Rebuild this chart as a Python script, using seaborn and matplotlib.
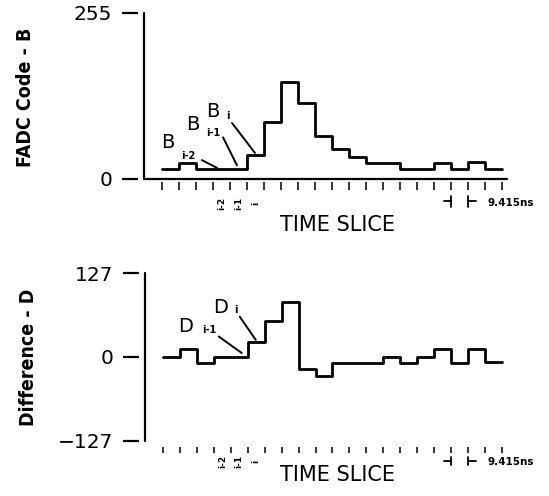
import numpy as np
import matplotlib
matplotlib.use("Agg")
import matplotlib.pyplot as plt
import seaborn as sns

# 數據: 每個時間片的 FADC 值與差分值
time_edges = list(range(21))
fadc_code = [15, 25, 15, 15, 15, 37, 88, 149, 117, 66, 46, 34, 25, 25, 16, 16, 25, 16, 26, 16]
difference = [0, 12, -9, 0, 0, 22, 54, 83, -18, -29, -9, -9, -9, 0, -9, 0, 12, -9, 12, -8]
slice_labels = ["i-2", "i-1", "i"]
slice_label_pos = [3.5, 4.5, 5.5]
fadc_ticks = [0, 255]
diff_ticks = [-127, 0, 127]

sns.set_style("ticks")
plt.rcParams["font.family"] = ["DejaVu Sans"]
plt.rcParams["text.color"] = "black"
plt.rcParams["xtick.color"] = "black"
plt.rcParams["ytick.color"] = "black"
plt.rcParams["xtick.labelcolor"] = "black"
plt.rcParams["ytick.labelcolor"] = "black"

PT = 0.72  # 1 px in points at dpi 100
LW = 1.6

fig = plt.figure(figsize=(5.49, 4.96), dpi=100)
ax1 = fig.add_axes([144 / 549, 1 - 179 / 496, 363 / 549, 166 / 496])
ax2 = fig.add_axes([145 / 549, 1 - 441 / 496, 362 / 549, 168 / 496])


def step_plot(ax, values):
    y = np.r_[values, values[-1]]
    sns.lineplot(x=time_edges, y=y, drawstyle="steps-post", color="black",
                 linewidth=2, estimator=None, sort=False, ax=ax)


def style_axis(ax, yticks, ylim, x_offset_px, x_tick_px, draw_xline):
    ax.set_xlim(-18 / 17, 345 / 17)
    ax.set_ylim(*ylim)
    ax.set_yticks(yticks)
    ax.set_xticks(time_edges)
    ax.set_xticklabels([])
    ax.set_xlabel("")
    ax.set_ylabel("")
    for side in ["top", "right"]:
        ax.spines[side].set_visible(False)
    # 刻度與軸線分離
    ax.spines["left"].set_position(("outward", 6 * PT))
    ax.spines["left"].set_color("none")
    ax.spines["bottom"].set_position(("outward", x_offset_px * PT))
    ax.spines["bottom"].set_color("none")
    ax.plot([0, 0], [0, 1], transform=ax.transAxes, color="black", lw=LW, clip_on=False)
    if draw_xline:
        ax.plot([0, 1], [0, 0], transform=ax.transAxes, color="black", lw=LW, clip_on=False)
    ax.tick_params(axis="y", length=16 * PT, width=LW, pad=7, labelsize=14.5,
                   color="black", labelcolor="black")
    ax.tick_params(axis="x", length=x_tick_px * PT, width=1.1, color="black")


def slice_marks(ax, y_lab, y0, y1):
    trans = ax.get_xaxis_transform()
    for x, s in zip(slice_label_pos, slice_labels):
        ax.text(x, y_lab, s, transform=trans, rotation=90, ha="center", va="center",
                fontsize=6.5, fontweight="bold", color="black")
    ym = (y0 + y1) / 2
    for x, dx in [(17, -0.42), (18, 0.45)]:
        ax.plot([x, x], [y0, y1], transform=trans, color="black", lw=1.3, clip_on=False)
        ax.plot([x, x + dx], [ym, ym], transform=trans, color="black", lw=1.3, clip_on=False)


def pointer(ax, main, sub, p_main, p_sub, start, end):
    ax.text(*p_main, main, fontsize=14, ha="left", va="center", color="black")
    ax.text(*p_sub, sub, fontsize=7, fontweight="bold", ha="left", va="center", color="black")
    ax.annotate("", xy=end, xytext=start,
                arrowprops=dict(arrowstyle="-", lw=1.4, color="black",
                                shrinkA=0, shrinkB=0))


# 上圖: FADC Code
step_plot(ax1, fadc_code)
style_axis(ax1, fadc_ticks, (0, 255), 3, 8, True)
slice_marks(ax1, -0.145, -0.102, -0.169)
pointer(ax1, "B", "i-2", (-0.05, 56), (1.1, 36), (2.35, 29), (3.24, 17))
pointer(ax1, "B", "i-1", (1.42, 84), (2.6, 70), (3.59, 64), (4.41, 21))
pointer(ax1, "B", "i", (2.6, 104), (3.76, 97), (4.12, 86), (5.47, 40))

# 下圖: Difference
step_plot(ax2, difference)
style_axis(ax2, diff_ticks, (-127, 127), 6, 6, False)
slice_marks(ax2, -0.123, -0.093, -0.143)
pointer(ax2, "D", "i-1", (0.9, 46), (2.3, 41), (3.29, 31), (4.65, 6))
pointer(ax2, "D", "i", (2.95, 75), (4.18, 71), (4.53, 61), (5.47, 26))

# 軸標題
fig.text(26 / 549, 1 - 97 / 496, "FADC Code - B", rotation=90, ha="center", va="center",
         fontsize=14, fontweight="bold", fontstretch="condensed", color="black")
fig.text(28 / 549, 1 - 357 / 496, "Difference - D", rotation=90, ha="center", va="center",
         fontsize=14, fontweight="bold", fontstretch="condensed", color="black")
fig.text(337 / 549, 1 - 225 / 496, "TIME SLICE", ha="center", va="center", fontsize=15,
         color="black")
fig.text(338 / 549, 1 - 475 / 496, "TIME SLICE", ha="center", va="center", fontsize=15,
         color="black")
fig.text(487 / 549, 1 - 203 / 496, "9.415ns", ha="left", va="center", fontsize=7.5,
         fontweight="bold", color="black")
fig.text(488 / 549, 1 - 462 / 496, "9.415ns", ha="left", va="center", fontsize=7.5,
         fontweight="bold", color="black")

fig.savefig("out.png", dpi=100, facecolor="white")
